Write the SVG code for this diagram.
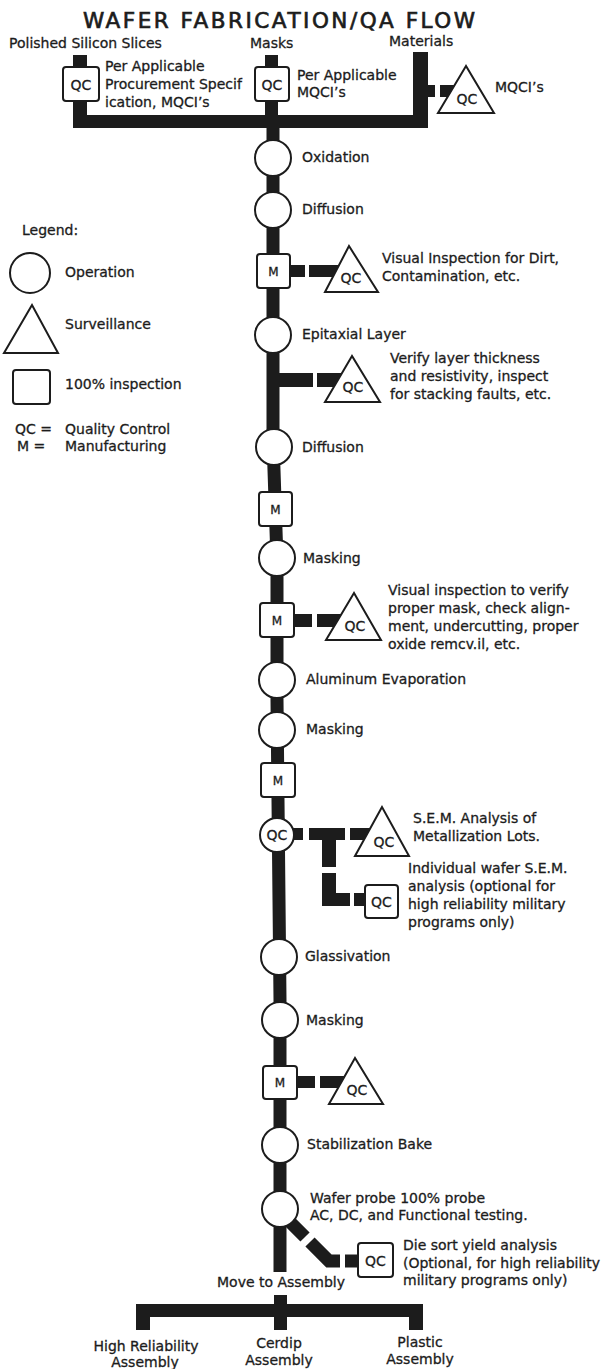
<svg xmlns="http://www.w3.org/2000/svg" width="614" height="1369" viewBox="0 0 614 1369">
<style>
.bar{fill:#1c1c1c}
.ln{fill:none;stroke:#1c1c1c;stroke-width:13;stroke-linejoin:miter;stroke-linecap:butt}
.node{fill:#fff;stroke:#1c1c1c;stroke-width:2}
text{font-family:"DejaVu Sans","Liberation Sans",sans-serif;font-size:14px;fill:#1c1c1c;stroke:#1c1c1c;stroke-width:0.3}
.c{text-anchor:middle}
.m{font-size:12px}
.t{font-size:21.5px;stroke-width:0.7}
</style>
<rect width="614" height="1369" fill="#fff"/>
<text class="t" x="83" y="28" textLength="392" lengthAdjust="spacing">WAFER FABRICATION/QA FLOW</text>

<g id="connectors">
  <!-- top inputs -->
  <rect class="bar" x="73" y="55" width="14" height="73"/>
  <rect class="bar" x="265" y="55" width="13" height="62"/>
  <rect class="bar" x="413" y="52" width="15" height="76"/>
  <rect class="bar" x="73" y="115" width="355" height="13"/>
  <rect class="bar" x="428" y="85" width="7" height="12"/>
  <rect class="bar" x="440" y="85" width="18" height="12"/>
  <!-- spine -->
  <path class="ln" d="M273,125 L273,440 L277,560 L277,700 L279,900 L280,1000 L280,1272"/>
  <!-- branch to dirt inspection -->
  <rect class="bar" x="290" y="265" width="15" height="12"/>
  <rect class="bar" x="309" y="265" width="30" height="12"/>
  <!-- branch to layer thickness -->
  <rect class="bar" x="279" y="373" width="34" height="14"/>
  <rect class="bar" x="317" y="373" width="24" height="14"/>
  <!-- branch to mask inspection -->
  <rect class="bar" x="294" y="614" width="18" height="13"/>
  <rect class="bar" x="317" y="614" width="25" height="13"/>
  <!-- SEM branches -->
  <rect class="bar" x="292" y="828" width="11" height="12"/>
  <rect class="bar" x="309" y="828" width="36" height="12"/>
  <rect class="bar" x="350" y="828" width="20" height="12"/>
  <rect class="bar" x="322" y="828" width="14" height="39"/>
  <rect class="bar" x="322" y="873" width="14" height="33"/>
  <rect class="bar" x="322" y="893" width="28" height="13"/>
  <rect class="bar" x="354" y="893" width="12" height="13"/>
  <!-- branch after masking -->
  <rect class="bar" x="297" y="1076" width="18" height="12"/>
  <rect class="bar" x="320" y="1076" width="24" height="12"/>
  <!-- die sort branch -->
  <path class="ln" d="M286,1218 L305,1237"/>
  <path class="ln" d="M310,1242 L329,1261 L340,1261"/>
  <path class="ln" d="M345,1261 L359,1261"/>
  <!-- assembly split -->
  <rect class="bar" x="274" y="1295" width="13" height="10"/>
  <rect class="bar" x="136" y="1304" width="287" height="13"/>
  <rect class="bar" x="136" y="1316" width="14" height="14"/>
  <rect class="bar" x="274" y="1316" width="13" height="14"/>
  <rect class="bar" x="409" y="1316" width="14" height="14"/>
</g>

<g id="input-polished">
  <text x="9" y="48">Polished Silicon Slices</text>
  <rect class="node" x="63" y="67" width="36" height="34" rx="3"/>
  <text class="c" x="81" y="90">QC</text>
  <text x="105" y="71">Per Applicable</text>
  <text x="105" y="89">Procurement Specif</text>
  <text x="105" y="107">ication, MQCI’s</text>
</g>
<g id="input-masks">
  <text x="250" y="48">Masks</text>
  <rect class="node" x="255" y="67" width="34" height="34" rx="3"/>
  <text class="c" x="272" y="90">QC</text>
  <text x="297" y="80">Per Applicable</text>
  <text x="297" y="97">MQCI’s</text>
</g>
<g id="input-materials">
  <text x="389" y="46">Materials</text>
  <polygon class="node" points="466,66 438,113 494,113"/>
  <text class="c" x="467" y="104">QC</text>
  <text x="495" y="92">MQCI’s</text>
</g>

<g id="legend">
  <text x="22" y="235">Legend:</text>
  <circle class="node" cx="30" cy="273" r="20"/>
  <text x="65" y="277">Operation</text>
  <polygon class="node" points="32,305 4,353 58,353"/>
  <text x="65" y="329">Surveillance</text>
  <rect class="node" x="13" y="370" width="37" height="34" rx="3"/>
  <text x="65" y="389">100% inspection</text>
  <text x="15" y="434">QC =</text>
  <text x="65" y="434">Quality Control</text>
  <text x="17" y="451">M =</text>
  <text x="65" y="451">Manufacturing</text>
</g>

<g id="oxidation">
  <circle class="node" cx="273" cy="158" r="18"/>
  <text x="302" y="162">Oxidation</text>
</g>
<g id="diffusion1">
  <circle class="node" cx="273" cy="210" r="18"/>
  <text x="302" y="214">Diffusion</text>
</g>
<g id="m1">
  <rect class="node" x="257" y="254" width="33" height="34" rx="3"/>
  <text class="c m" x="273.5" y="276">M</text>
</g>
<g id="qc-dirt">
  <polygon class="node" points="349,246 325,292 378,292"/>
  <text class="c" x="351" y="283">QC</text>
  <text x="382" y="263">Visual Inspection for Dirt,</text>
  <text x="382" y="281">Contamination, etc.</text>
</g>
<g id="epitaxial">
  <circle class="node" cx="273" cy="335" r="18"/>
  <text x="302" y="339">Epitaxial Layer</text>
</g>
<g id="qc-layer">
  <polygon class="node" points="352,356 325,402 380,402"/>
  <text class="c" x="353" y="392">QC</text>
  <text x="390" y="363">Verify layer thickness</text>
  <text x="390" y="381">and resistivity, inspect</text>
  <text x="390" y="399">for stacking faults, etc.</text>
</g>
<g id="diffusion2">
  <circle class="node" cx="274" cy="447" r="18"/>
  <text x="302" y="452">Diffusion</text>
</g>
<g id="m2">
  <rect class="node" x="259" y="492" width="33" height="34" rx="3"/>
  <text class="c m" x="275.5" y="514">M</text>
</g>
<g id="masking1">
  <circle class="node" cx="277" cy="558" r="18"/>
  <text x="303" y="563">Masking</text>
</g>
<g id="m3">
  <rect class="node" x="260" y="603" width="34" height="34" rx="3"/>
  <text class="c m" x="277" y="625">M</text>
</g>
<g id="qc-mask">
  <polygon class="node" points="354,593 326,640 381,640"/>
  <text class="c" x="355" y="631">QC</text>
  <text x="388" y="595">Visual inspection to verify</text>
  <text x="388" y="613">proper mask, check align-</text>
  <text x="388" y="631">ment, undercutting, proper</text>
  <text x="388" y="649">oxide remcv.il, etc.</text>
</g>
<g id="aluminum">
  <circle class="node" cx="277" cy="680" r="18"/>
  <text x="306" y="684">Aluminum Evaporation</text>
</g>
<g id="masking2">
  <circle class="node" cx="277" cy="730" r="18"/>
  <text x="306" y="734">Masking</text>
</g>
<g id="m4">
  <rect class="node" x="261" y="763" width="34" height="34" rx="3"/>
  <text class="c m" x="278" y="785">M</text>
</g>
<g id="qc-op">
  <circle class="node" cx="277" cy="835" r="17"/>
  <text class="c" x="277" y="840">QC</text>
</g>
<g id="qc-sem">
  <polygon class="node" points="382,807 355,856 409,856"/>
  <text class="c" x="384" y="847">QC</text>
  <text x="413" y="823">S.E.M. Analysis of</text>
  <text x="413" y="841">Metallization Lots.</text>
</g>
<g id="qc-wafer-sem">
  <rect class="node" x="365" y="885" width="33" height="33" rx="3"/>
  <text class="c" x="381.5" y="907">QC</text>
  <text x="408" y="873">Individual wafer S.E.M.</text>
  <text x="408" y="891">analysis (optional for</text>
  <text x="408" y="909">high reliability military</text>
  <text x="408" y="927">programs only)</text>
</g>
<g id="glassivation">
  <circle class="node" cx="279" cy="957" r="18"/>
  <text x="305" y="961">Glassivation</text>
</g>
<g id="masking3">
  <circle class="node" cx="280" cy="1020" r="18"/>
  <text x="306" y="1025">Masking</text>
</g>
<g id="m5">
  <rect class="node" x="263" y="1066" width="34" height="33" rx="3"/>
  <text class="c m" x="280" y="1087">M</text>
</g>
<g id="qc-after-m5">
  <polygon class="node" points="355,1058 329,1104 383,1104"/>
  <text class="c" x="357" y="1095">QC</text>
</g>
<g id="stabilization">
  <circle class="node" cx="280" cy="1145" r="18"/>
  <text x="307" y="1149">Stabilization Bake</text>
</g>
<g id="wafer-probe">
  <circle class="node" cx="280" cy="1209" r="18"/>
  <text x="310" y="1203">Wafer probe 100% probe</text>
  <text x="310" y="1220">AC, DC, and Functional testing.</text>
</g>
<g id="qc-die-sort">
  <rect class="node" x="358" y="1243" width="35" height="34" rx="3"/>
  <text class="c" x="375.5" y="1266">QC</text>
  <text x="403" y="1250">Die sort yield analysis</text>
  <text x="403" y="1268">(Optional, for high reliability</text>
  <text x="403" y="1285">military programs only)</text>
</g>
<g id="move-to-assembly">
  <text class="c" x="281" y="1287">Move to Assembly</text>
</g>
<g id="high-rel">
  <text class="c" x="146" y="1351">High Reliability</text>
  <text class="c" x="145" y="1367">Assembly</text>
</g>
<g id="cerdip">
  <text class="c" x="279" y="1348">Cerdip</text>
  <text class="c" x="279" y="1365">Assembly</text>
</g>
<g id="plastic">
  <text class="c" x="420" y="1347">Plastic</text>
  <text class="c" x="420" y="1364">Assembly</text>
</g>
</svg>
